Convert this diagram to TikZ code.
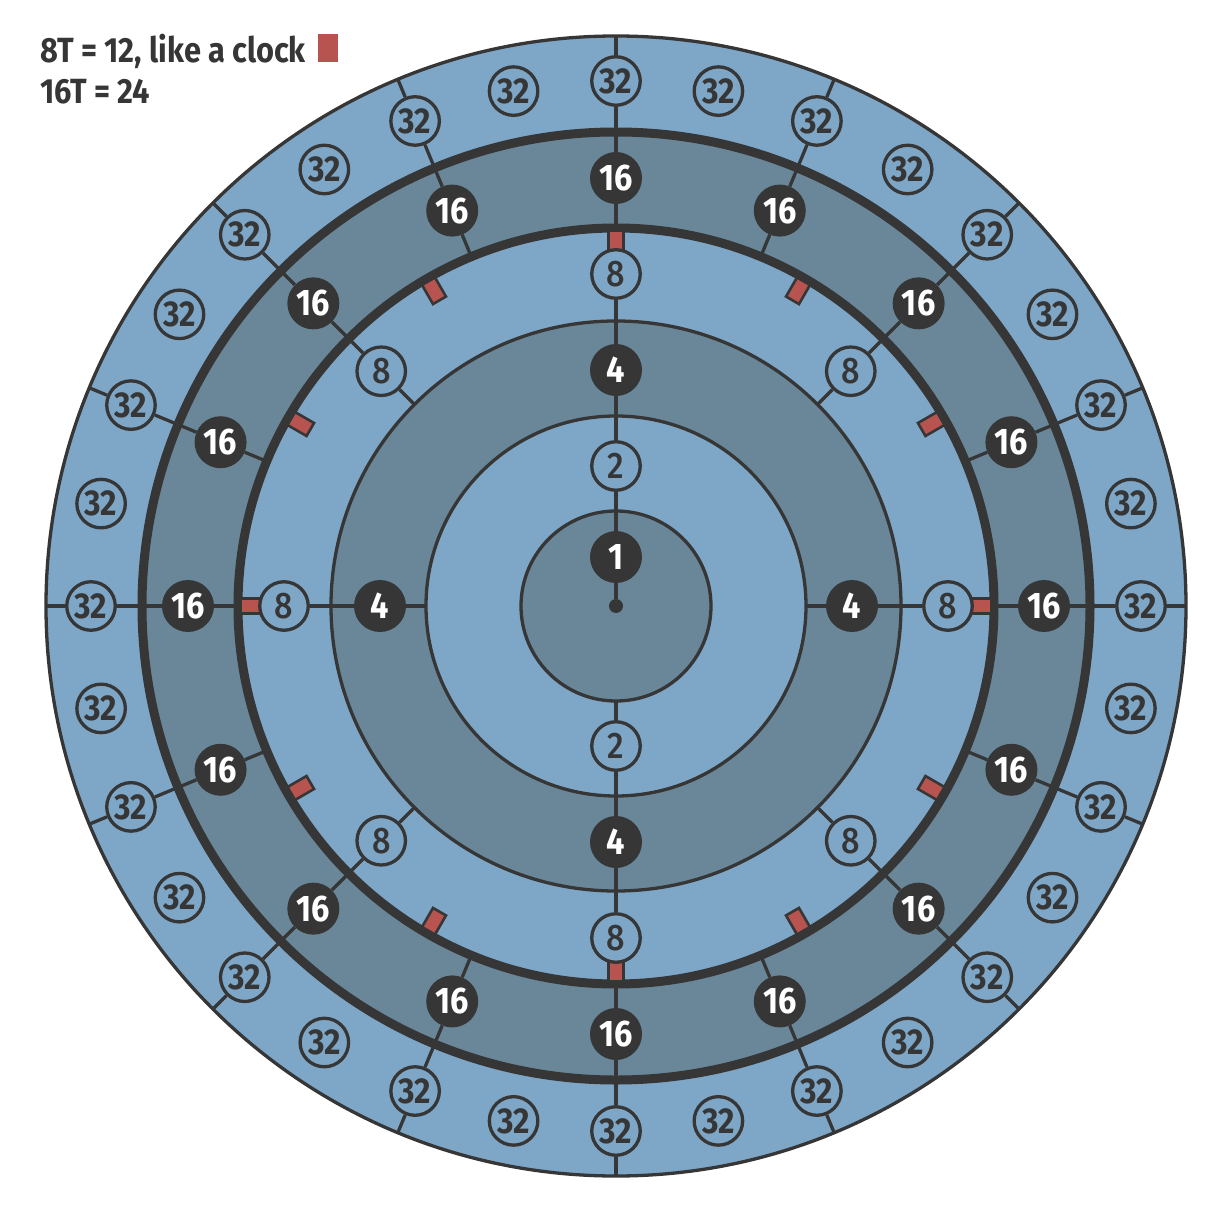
\documentclass[tikz,border=0pt]{standalone}
\usepackage{fontspec}
\setmainfont{Fira Sans}[FakeStretch=0.88]
\newfontfamily\medfont{Fira Sans Medium}[FakeStretch=0.88]
\pgfdeclarelayer{bg}
\pgfdeclarelayer{lines}
\pgfsetlayers{bg,lines,main}
\definecolor{lightring}{HTML}{7EA7C7}
\definecolor{darkring}{HTML}{698799}
\definecolor{ink}{HTML}{363636}
\definecolor{markred}{HTML}{B85450}
\tikzset{
  thinring/.style={draw=ink, line width=3.3pt},
  thickring/.style={draw=ink, line width=9pt},
  darknode/.style={circle, fill=ink, text=white, minimum size=52pt, inner sep=0pt,
    font=\fontsize{37}{37}\selectfont\bfseries},
  lightnode/.style={circle, draw=ink, line width=3.3pt, fill=lightring, text=ink,
    minimum size=48.5pt, inner sep=0pt},
  boldnum/.style={font=\fontsize{36}{36}\selectfont\bfseries},
  plainnum/.style={font=\fontsize{37}{37}\medfont},
  conn/.style={draw=ink, line width=3.3pt},
  clockmark/.style={draw=ink, fill=markred, line width=2.6pt, minimum width=22pt,
    minimum height=15pt, inner sep=0pt},
  legendtext/.style={anchor=base west, inner sep=0pt, text=ink,
    font=\fontsize{35}{35}\selectfont\bfseries},
}
\begin{document}
\begin{tikzpicture}[x=1pt,y=1pt]
\useasboundingbox (-616,-612) rectangle (614,606);

% ring fills and ring outlines
\begin{pgfonlayer}{bg}
  \fill[lightring] (0,0) circle (570);
  \fill[darkring]  (0,0) circle (474);
  \fill[lightring] (0,0) circle (378);
  \fill[darkring]  (0,0) circle (285);
  \fill[lightring] (0,0) circle (190);
  \fill[darkring]  (0,0) circle (95);
  \draw[thinring]  (0,0) circle (95);
  \draw[thinring]  (0,0) circle (190);
  \draw[thinring]  (0,0) circle (285);
  \draw[thickring] (0,0) circle (378);
  \draw[thickring] (0,0) circle (474);
  \draw[thinring]  (0,0) circle (570);
\end{pgfonlayer}

% free ends of the radial connectors
\foreach \j in {0,...,31} \coordinate (out-\j) at ({\j*11.25}:570);
\foreach \i in {0,...,15} \coordinate (in16-\i) at ({\i*22.5}:378);
\foreach \m in {0,...,7} \coordinate (in8-\m) at ({\m*45}:285);
\foreach \q in {0,...,3} \coordinate (in4-\q) at ({\q*90}:190);
\coordinate (in2b) at (270:95);

% clock markers (12 positions)
\foreach \k in {0,...,11}
  \node[clockmark, rotate={\k*30}] (mk-\k) at ({\k*30}:364) {};

% nodes
\node[circle, fill=ink, minimum size=14pt, inner sep=0pt] (ctr) at (0,0) {};
\node[darknode] (n1) at (90:49) {1};
\node[lightnode, plainnum] (n2t) at (90:140) {2};
\node[lightnode, plainnum] (n2b) at (270:140) {2};
\foreach \q in {0,...,3} \node[darknode] (n4-\q) at ({\q*90}:236) {4};
\foreach \m in {0,...,7} \node[lightnode, plainnum] (n8-\m) at ({\m*45}:332) {8};
\foreach \i in {0,...,15} \node[darknode] (n16-\i) at ({\i*22.5}:428) {16};
\foreach \j in {0,...,31} \node[lightnode, boldnum] (n32-\j) at ({\j*11.25}:525) {32};

% connectors
\begin{pgfonlayer}{lines}
  \draw[conn] (ctr) -- (n1) -- (n2t) -- (n4-1) -- (n8-2) -- (n16-4) -- (n32-8) -- (out-8);
  \draw[conn] (in2b) -- (n2b) -- (n4-3) -- (n8-6) -- (n16-12) -- (n32-24) -- (out-24);
  \draw[conn] (in4-0) -- (n4-0) -- (n8-0) -- (n16-0) -- (n32-0) -- (out-0);
  \draw[conn] (in4-2) -- (n4-2) -- (n8-4) -- (n16-8) -- (n32-16) -- (out-16);
  \foreach \m [evaluate=\m as \ii using {int(2*\m)}, evaluate=\m as \jj using {int(4*\m)}] in {1,3,5,7}
    \draw[conn] (in8-\m) -- (n8-\m) -- (n16-\ii) -- (n32-\jj) -- (out-\jj);
  \foreach \i [evaluate=\i as \jj using {int(2*\i)}] in {1,3,...,15}
    \draw[conn] (in16-\i) -- (n16-\i) -- (n32-\jj) -- (out-\jj);
\end{pgfonlayer}

% legend
\node[legendtext] (leg1) at (-576,543) {8T = 12, like a clock};
\node[legendtext] (leg2) at (-576,502) {16T = 24};
\node[fill=markred, minimum width=20pt, minimum height=28pt, inner sep=0pt] (legmark) at (-288,558) {};
\end{tikzpicture}
\end{document}
